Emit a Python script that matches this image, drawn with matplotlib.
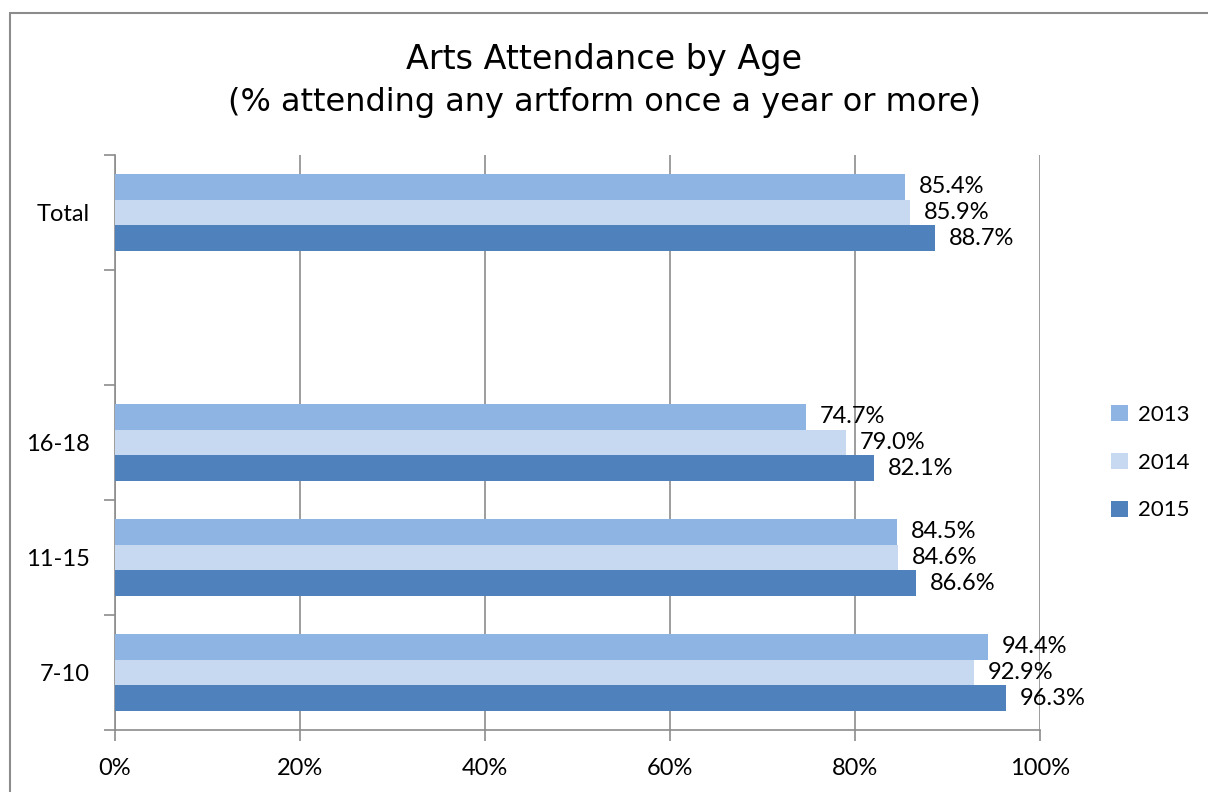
import matplotlib
matplotlib.use("Agg")
import matplotlib.pyplot as plt
import numpy as np
from matplotlib.patches import Rectangle

categories = ["7-10", "11-15", "16-18", "", "Total"]
years = ["2013", "2014", "2015"]
values = {
    "2013": [94.4, 84.5, 74.7, np.nan, 85.4],
    "2014": [92.9, 84.6, 79.0, np.nan, 85.9],
    "2015": [96.3, 86.6, 82.1, np.nan, 88.7],
}
colors = {"2013": "#8EB4E3", "2014": "#C6D9F1", "2015": "#4F81BD"}

plt.rcParams['font.family'] = ['Lato', 'DejaVu Sans']

fig = plt.figure(figsize=(12.08, 7.92), dpi=100)
# outer chart frame
fig.patches.append(Rectangle((10 / 1208, -0.1), 1.2, 1 - 13 / 792 + 0.1,
                             transform=fig.transFigure, fill=False,
                             edgecolor="#8c8c8c", linewidth=1.5))

ax = fig.add_axes([115 / 1208, 1 - 730 / 792, 925 / 1208, 575 / 792])

h = 0.223
y = np.arange(len(categories))
for i, yr in enumerate(years):
    pos = y + (1 - i) * h
    v = np.array(values[yr])
    ax.barh(pos, v, height=h, color=colors[yr], label=yr, zorder=3)
    for p, val in zip(pos, v):
        if not np.isnan(val):
            ax.text(val + 1.5, p, "%.1f%%" % val, va="center", ha="left",
                    fontsize=17, zorder=4)

ax.set_xlim(0, 100)
ax.set_ylim(-0.5, len(categories) - 0.5)
ax.set_xticks(np.arange(0, 101, 20))
ax.set_xticklabels(["%d%%" % t for t in range(0, 101, 20)], fontsize=17)
ax.set_yticks(np.arange(-0.5, len(categories), 1))
ax.set_yticklabels([])
ax.set_yticks(y, minor=True)
ax.set_yticklabels(categories, minor=True, fontsize=17)
ax.tick_params(axis="y", which="minor", length=0, pad=18)
ax.tick_params(axis="y", which="major", length=8, color="#8c8c8c", width=1.2)
ax.tick_params(axis="x", length=8, color="#8c8c8c", width=1.2, pad=12)
ax.grid(axis="x", color="#8c8c8c", linewidth=1.2, zorder=0)
for s in ["top", "right"]:
    ax.spines[s].set_visible(False)
for s in ["left", "bottom"]:
    ax.spines[s].set_color("#8c8c8c")
    ax.spines[s].set_linewidth(1.2)

leg = ax.legend(loc="center left", bbox_to_anchor=(1.055, 0.465), frameon=False,
                fontsize=16, handlelength=0.75, handleheight=0.75,
                labelspacing=1.25, handletextpad=0.45)

fig.text(0.5, 1 - 60 / 792, "Arts Attendance by Age", ha="center", va="center",
         fontsize=24, family="DejaVu Sans")
fig.text(0.5, 1 - 103 / 792, "(% attending any artform once a year or more)",
         ha="center", va="center", fontsize=23, family="DejaVu Sans")

fig.savefig("out.png", dpi=100)
